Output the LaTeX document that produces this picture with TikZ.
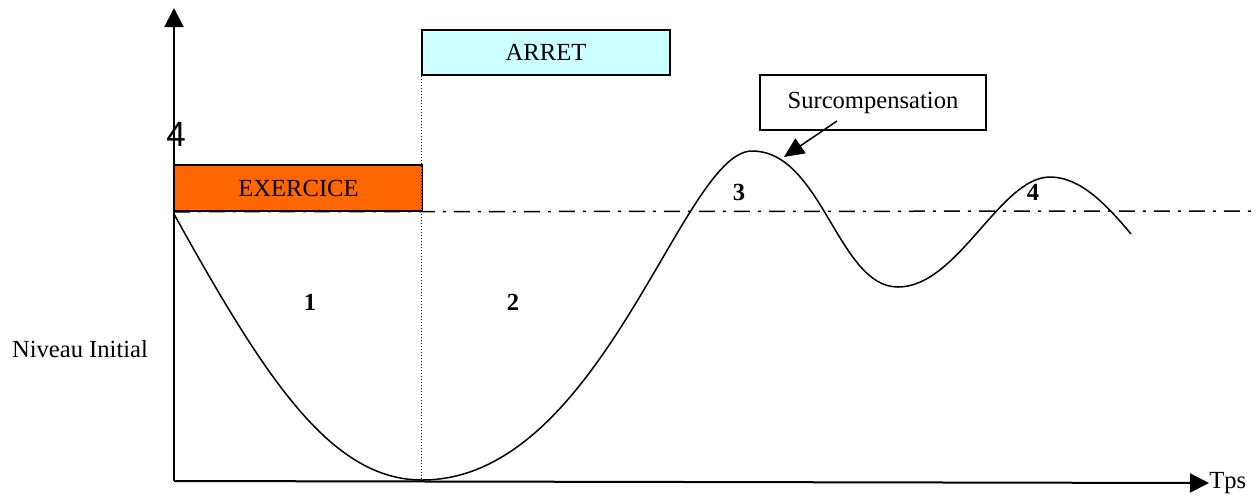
\documentclass[tikz,border=0pt]{standalone}
\usepackage{fontspec}
\setmainfont{Liberation Serif}
\newfontfamily\axisfont{Liberation Sans}
\usetikzlibrary{positioning,arrows.meta}

\definecolor{exorange}{HTML}{FF6600}
\definecolor{stopcyan}{HTML}{CCFFFF}

\begin{document}
\begin{tikzpicture}[x=0.5pt, y=-0.5pt,
  phase/.style={draw, line width=0.75pt, minimum width=124pt, minimum height=23pt,
                inner sep=0pt, font=\fontsize{12.3}{14}\selectfont},
  callout/.style={draw, line width=0.75pt, minimum width=113pt, minimum height=27.5pt,
                inner sep=0pt, font=\fontsize{12.3}{14}\selectfont, fill=white},
  lbl/.style={inner sep=0pt, font=\fontsize{12.3}{14}\selectfont},
  num/.style={inner sep=0pt, font=\fontsize{12.3}{14}\selectfont\bfseries},
  axis/.style={line width=1pt, -{Triangle[length=9.5pt,width=9.5pt]}},
  ref/.style={line width=0.75pt, dash pattern=on 8pt off 4pt on 1.5pt off 4pt},
  tip/.style={line width=0.75pt, -{Triangle[length=10pt,width=9pt]}}
]
\useasboundingbox (0,0) rectangle (1259,495);

%% Axes
\coordinate (O) at (174,481);
\coordinate (ytop) at (174,8);
\node[lbl, anchor=west] (tps) at (1209,483) {Tps};
\draw[axis] (O) -- (ytop);
\draw[axis] (O) -- (tps.west);
\node[lbl] (niveau) at (80,349) {Niveau Initial};
\node[inner sep=0pt, font=\axisfont\fontsize{17.5}{18}\selectfont] (four) at (176,134) {4};

%% Phases
\node[phase, fill=exorange] (exo) at (298.5,188) {EXERCICE};
\node[phase, fill=stopcyan, minimum height=22.5pt] (arret) at (546,52.5) {ARRET};
\draw[line width=0.6pt, dash pattern=on 0.6pt off 0.9pt] (arret.south west) -- (arret.south west |- O);

%% Reference level
\coordinate (refend) at (1257,211);
\draw[ref] (exo.south west) -- (refend);

%% Response curve
\coordinate (c0) at (174,214);
\coordinate (cmin) at (422,480);
\coordinate (cpk3) at (752,151);
\coordinate (ctr) at (898,287);
\coordinate (cpk4) at (1050,177);
\coordinate (cend) at (1131,234);
\draw[line width=0.75pt] (c0)
  .. controls (264,376) and (330,480) .. (cmin)
  .. controls (602,480) and (682,151) .. (cpk3)
  .. controls (822,151) and (838,287) .. (ctr)
  .. controls (958,287) and (1000,177) .. (cpk4)
  .. controls (1080,177) and (1106,204) .. (cend);

%% Phase numbers
\node[num] (n1) at (310,302) {1};
\node[num] (n2) at (513,302) {2};
\node[num] (n3) at (739,192) {3};
\node[num] (n4) at (1033,192) {4};

%% Callout
\node[callout] (surc) at (873,102.5) {Surcompensation};
\coordinate (surctail) at (837,121);
\coordinate (peak) at (784,157);
\draw[tip] (surctail) -- (peak);
\end{tikzpicture}
\end{document}
